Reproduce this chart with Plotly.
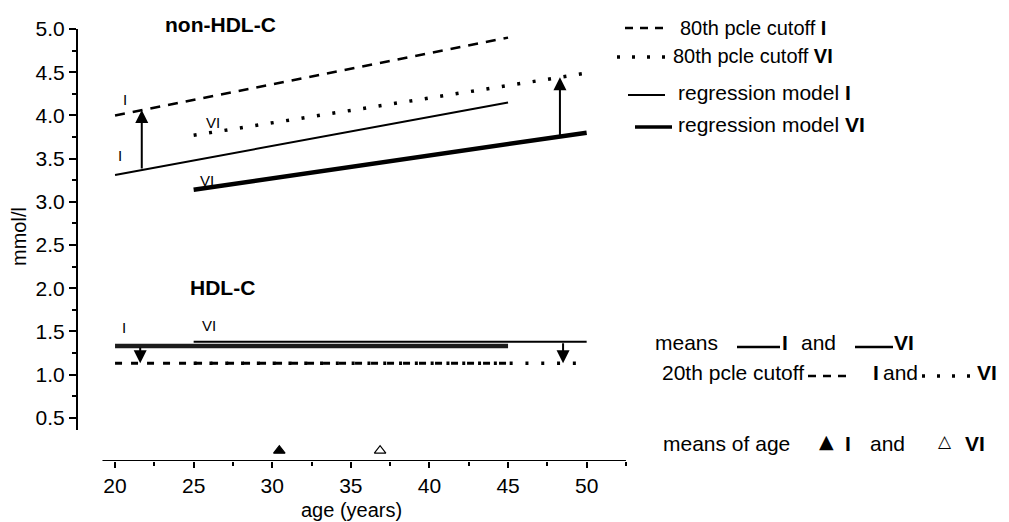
import numpy as np
import plotly.graph_objects as go

# ---------------------------------------------------------------- data
# age spans (years) covered by each cohort
age_I = [20, 45]
age_VI = [25, 50]

# non-HDL-C (mmol/l)
nonhdl_p80_I = [4.00, 4.90]      # 80th percentile cutoff, cohort I
nonhdl_p80_VI = [3.77, 4.49]     # 80th percentile cutoff, cohort VI
nonhdl_reg_I = [3.31, 4.15]      # regression model, cohort I
nonhdl_reg_VI = [3.14, 3.80]     # regression model, cohort VI

# HDL-C (mmol/l)
hdl_mean_I = [1.33, 1.33]
hdl_mean_VI = [1.38, 1.38]
hdl_p20_I = [1.13, 1.13]         # 20th percentile cutoff, cohort I
hdl_p20_VI = [1.13, 1.13]        # 20th percentile cutoff, cohort VI

# mean age of each cohort (years)
mean_age_I = 30.45
mean_age_VI = 36.86

# ages where the distance between model/mean and cutoff is marked
arrow_age_nonhdl = [21.7, 48.3]  # cohort I, cohort VI
arrow_age_hdl = [21.6, 48.5]

x_ticks = [20, 25, 30, 35, 40, 45, 50]
x_minor = [22.5, 27.5, 32.5, 37.5, 42.5, 47.5, 52.5]
y_ticks = [0.5, 1.0, 1.5, 2.0, 2.5, 3.0, 3.5, 4.0, 4.5, 5.0]
y_minor = [0.75, 1.25, 1.75, 2.25, 2.75, 3.25, 3.75, 4.25, 4.75]

# ---------------------------------------------------------------- layout helpers
W, H = 1009, 522
PL, PR, PT, PB = 77, 628, 29, 461          # plot area in pixels
X_RANGE = [17.58, 52.63]
Y_RANGE = [0, 5.0]
FONT = "Liberation Sans, Arial, Helvetica, sans-serif"
BLACK = "#000000"


def fx(px):
    return (px - PL) / (PR - PL)


def fy(py):
    return (PB - py) / (PB - PT)


fig = go.Figure()


def add_line(x, y, width, dash="solid", color=BLACK):
    fig.add_trace(go.Scatter(
        x=x, y=y, mode="lines", showlegend=False, hoverinfo="skip",
        line=dict(color=color, width=width, dash=dash)))


# non-HDL-C block
add_line(age_I, nonhdl_p80_I, 2.5, "10px,8px")
add_line(age_VI, nonhdl_p80_VI, 3.5, "3px,12.6px")
add_line(age_I, nonhdl_reg_I, 2)
add_line(age_VI, nonhdl_reg_VI, 4.5)

# HDL-C block
add_line(age_I, hdl_p20_I, 3, "7px,9px")
add_line(age_VI, hdl_p20_VI, 3.5, "3px,12.8px")
add_line(age_I, hdl_mean_I, 4.5, color="#1c1c1c")
add_line(age_VI, hdl_mean_VI, 2)

# mean ages on the age axis
fig.add_trace(go.Scatter(
    x=[mean_age_I, mean_age_VI], y=[0.12, 0.12], mode="markers",
    showlegend=False, hoverinfo="skip",
    marker=dict(symbol=["triangle-up", "triangle-up-open"], size=10,
                color=BLACK, line=dict(color=BLACK, width=1.2))))

annotations = []


def arrow(age, x_line, tail_series, head_series):
    tail = float(np.interp(age, x_line[0], tail_series))
    head = float(np.interp(age, x_line[1], head_series))
    annotations.append(dict(
        x=age, y=head, ax=age, ay=tail, xref="x", yref="y",
        axref="x", ayref="y", text="", showarrow=True,
        arrowhead=2, arrowsize=1.3, arrowwidth=2, arrowcolor=BLACK,
        standoff=0, startstandoff=0))


# distance from model/mean to the percentile cutoffs
arrow(arrow_age_nonhdl[0], (age_I, age_I), nonhdl_reg_I, nonhdl_p80_I)
arrow(arrow_age_nonhdl[1], (age_VI, age_VI), nonhdl_reg_VI, nonhdl_p80_VI)
arrow(arrow_age_hdl[0], (age_I, age_I), hdl_mean_I, hdl_p20_I)
arrow(arrow_age_hdl[1], (age_VI, age_VI), hdl_mean_VI, hdl_p20_VI)


def label(text, x, y, size=15, xref="x", yref="y", xanchor="center",
          bold=False, angle=0, family=FONT):
    annotations.append(dict(
        text=f"<b>{text}</b>" if bold else text, x=x, y=y, xref=xref,
        yref=yref, xanchor=xanchor, yanchor="middle", showarrow=False,
        textangle=angle, font=dict(family=family, size=size, color=BLACK)))


# cohort tags next to the curves
label("I", age_I[0] + 0.65, nonhdl_p80_I[0] + 0.18)
label("VI", age_VI[0] + 1.2, nonhdl_p80_VI[0] + 0.15)
label("I", age_I[0] + 0.3, nonhdl_reg_I[0] + 0.23)
label("VI", age_VI[0] + 0.85, nonhdl_reg_VI[0] + 0.11)
label("I", age_I[0] + 0.6, hdl_mean_I[0] + 0.21)
label("VI", age_VI[0] + 0.95, hdl_mean_VI[0] + 0.19)

# panel titles and axis titles
label("non-HDL-C", fx(220), fy(25), 21, "paper", "paper", bold=True)
label("HDL-C", fx(222), fy(287), 21, "paper", "paper", bold=True)
label("mmol/l", fx(19), fy(237), 20, "paper", "paper", angle=-90)
label("age (years)", fx(351), fy(510), 20, "paper", "paper")

# key (right-hand side)
def key_text(text, px, py, size=21):
    label(text, fx(px), fy(py), size, "paper", "paper", xanchor="left")


key_text("80th pcle cutoff <b>I</b>", 678, 28, 20)
key_text("80th pcle cutoff <b>VI</b>", 671, 56, 20)
key_text("regression model <b>I</b>", 676, 92)
key_text("regression model <b>VI</b>", 676, 124)

key_text("means", 653, 342)
key_text("<b>I</b>", 780, 342)
key_text("and", 799, 342)
key_text("<b>VI</b>", 892, 342)

key_text("20th pcle cutoff", 660, 372)
key_text("<b>I</b>", 871, 372)
key_text("and", 881, 372)
key_text("<b>VI</b>", 975, 372)

key_text("means of age", 661, 443)
key_text("<b>I</b>", 843, 443)
key_text("and", 868, 443)
key_text("<b>VI</b>", 963, 443)
label("\u25B2", fx(826), fy(441), 19, "paper", "paper",
      family="DejaVu Sans")
label("\u25B3", fx(945), fy(441), 17, "paper", "paper",
      family="DejaVu Sans")

shapes = []


def key_line(x0, x1, py, width, dash="solid"):
    shapes.append(dict(type="line", xref="paper", yref="paper",
                       x0=fx(x0), x1=fx(x1), y0=fy(py), y1=fy(py),
                       line=dict(color=BLACK, width=width, dash=dash)))


key_line(625, 670, 28, 2.5, "8px,7px")
key_line(617, 670, 57, 3.5, "3px,12px")
key_line(628, 665, 95, 2)
key_line(635, 672, 127, 3.5)
key_line(737, 780, 347, 2.5)
key_line(855, 893, 347, 2.5)
key_line(808, 850, 376, 2.5, "8px,7px")
key_line(922, 972, 376, 3.5, "3px,12px")

# axis lines
shapes.append(dict(type="line", xref="x", yref="y", x0=19.2, x1=52.5,
                   y0=0, y1=0, line=dict(color=BLACK, width=2)))
shapes.append(dict(type="line", xref="paper", yref="y", x0=0, x1=0,
                   y0=0.36, y1=5.0, line=dict(color=BLACK, width=2)))

fig.update_layout(
    width=W, height=H,
    margin=dict(l=PL, r=W - PR, t=PT, b=H - PB, pad=0),
    plot_bgcolor="white", paper_bgcolor="white",
    font=dict(family=FONT, size=21, color=BLACK),
    showlegend=False,
    annotations=annotations, shapes=shapes,
    xaxis=dict(range=X_RANGE, showline=False, showgrid=False, zeroline=False,
               tickmode="array", tickvals=x_ticks, ticks="outside",
               ticklen=6, tickwidth=2, tickcolor=BLACK,
               tickfont=dict(family=FONT, size=21),
               minor=dict(tickmode="array", tickvals=x_minor, ticks="outside",
                          ticklen=4, tickwidth=2, tickcolor=BLACK)),
    yaxis=dict(range=Y_RANGE, showline=False, showgrid=False, zeroline=False,
               tickmode="array", tickvals=y_ticks, tickformat=".1f",
               ticks="outside", ticklen=7, tickwidth=2, tickcolor=BLACK,
               tickfont=dict(family=FONT, size=21),
               minor=dict(tickmode="array", tickvals=y_minor, ticks="outside",
                          ticklen=4, tickwidth=2, tickcolor=BLACK)),
)

fig.write_html("out.html")
